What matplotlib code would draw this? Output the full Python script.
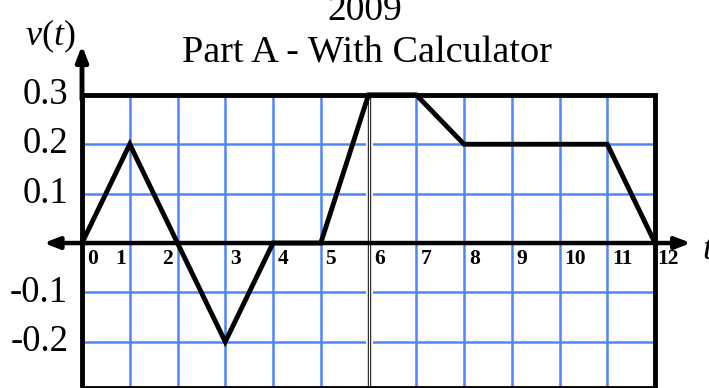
import matplotlib
matplotlib.use('Agg')
import matplotlib.pyplot as plt

plt.rcParams['font.family'] = 'Liberation Serif'
plt.rcParams['mathtext.fontset'] = 'custom'
plt.rcParams['mathtext.rm'] = 'Liberation Serif'
plt.rcParams['mathtext.it'] = 'Liberation Serif:italic'

# data
t_vals = [0, 1, 2, 3, 4, 5, 6, 7, 8, 11, 12]
v_vals = [0, 0.2, 0, -0.2, 0, 0, 0.3, 0.3, 0.2, 0.2, 0]

x_ticks = [0, 1, 2, 3, 4, 5, 6, 7, 8, 9, 10, 11, 12]
x_tick_labels = ['0', '1', '2', '3', '4', '5', '6', '7', '8', '9', '10', '11', '12']
y_ticks = [0.3, 0.2, 0.1, -0.1, -0.2]
y_tick_labels = ['0.3', '0.2', '0.1', '-0.1', '-0.2']

grid_x = list(range(1, 12))
grid_y = [-0.2, -0.1, 0.1, 0.2]

fig = plt.figure(figsize=(7.09, 3.88), dpi=100)
ax = fig.add_axes([0, 0, 1, 1])
ax.axis('off')
y_bottom = -0.2935
ax.set_xlim(-1.717, 13.13)
ax.set_ylim(y_bottom, 0.492)

blue = '#4f86f7'
for gx in grid_x:
    ax.plot([gx, gx], [-0.3, 0.3], color=blue, lw=1.8, zorder=1)
for gy in grid_y:
    ax.plot([0, 12], [gy, gy], color=blue, lw=1.8, zorder=1)

# double line at t = 6
ax.plot([6.02, 6.02], [-0.3, 0.3], color='white', lw=5, zorder=2)
ax.plot([6.02, 6.02], [-0.3, 0.3], color='black', lw=2.4, zorder=2)
ax.plot([6.02, 6.02], [-0.3, 0.3], color='white', lw=1.0, zorder=2)

# frame
ax.plot([0, 12, 12, 0, 0], [0.3, 0.3, y_bottom, y_bottom, 0.3], color='black',
        lw=3.5, zorder=3, solid_joinstyle='miter', clip_on=False)

# axes with arrows
ax.annotate('', xy=(0, 0.40), xytext=(0, 0.29),
            arrowprops=dict(arrowstyle='-|>,head_length=0.9,head_width=0.35',
                            lw=3.5, color='black', shrinkA=0, shrinkB=0), zorder=4)
ax.annotate('', xy=(12.75, 0), xytext=(0, 0),
            arrowprops=dict(arrowstyle='-|>,head_length=0.9,head_width=0.35',
                            lw=3.2, color='black', shrinkA=0, shrinkB=0), zorder=4)
ax.annotate('', xy=(-0.8, 0), xytext=(0.1, 0),
            arrowprops=dict(arrowstyle='-|>,head_length=0.9,head_width=0.35',
                            lw=3.2, color='black', shrinkA=0, shrinkB=0), zorder=4)

ax.plot(t_vals, v_vals, color='black', lw=3.5, zorder=5,
        solid_joinstyle='miter', solid_capstyle='butt')

# tick labels
x_offsets = [0.1, -0.08, -0.1, 0.1, 0.1, 0.1, 0.12, 0.1, 0.1, 0.1, 0.1, 0.1, 0.05]
for tx, lab, off in zip(x_ticks, x_tick_labels, x_offsets):
    ha = 'right' if off < 0 else 'left'
    ax.text(tx + off, -0.032, lab, fontsize=15.5, fontweight='bold',
            ha=ha, va='center')
for ty, lab in zip(y_ticks, y_tick_labels):
    ax.text(-0.29, ty, lab, fontsize=26.5, ha='right', va='center')

ax.text(12.98, -0.015, r'$t$', fontsize=26, ha='left', va='center')
ax.text(-1.2, 0.40, r'$v(t)$', fontsize=26, ha='left', va='baseline')

fig.text(0.515, 0.948, '2009', fontsize=27, ha='center', va='baseline')
fig.text(0.518, 0.838, 'Part A - With Calculator', fontsize=27.5, ha='center',
         va='baseline')

fig.savefig('out.png', dpi=100)
